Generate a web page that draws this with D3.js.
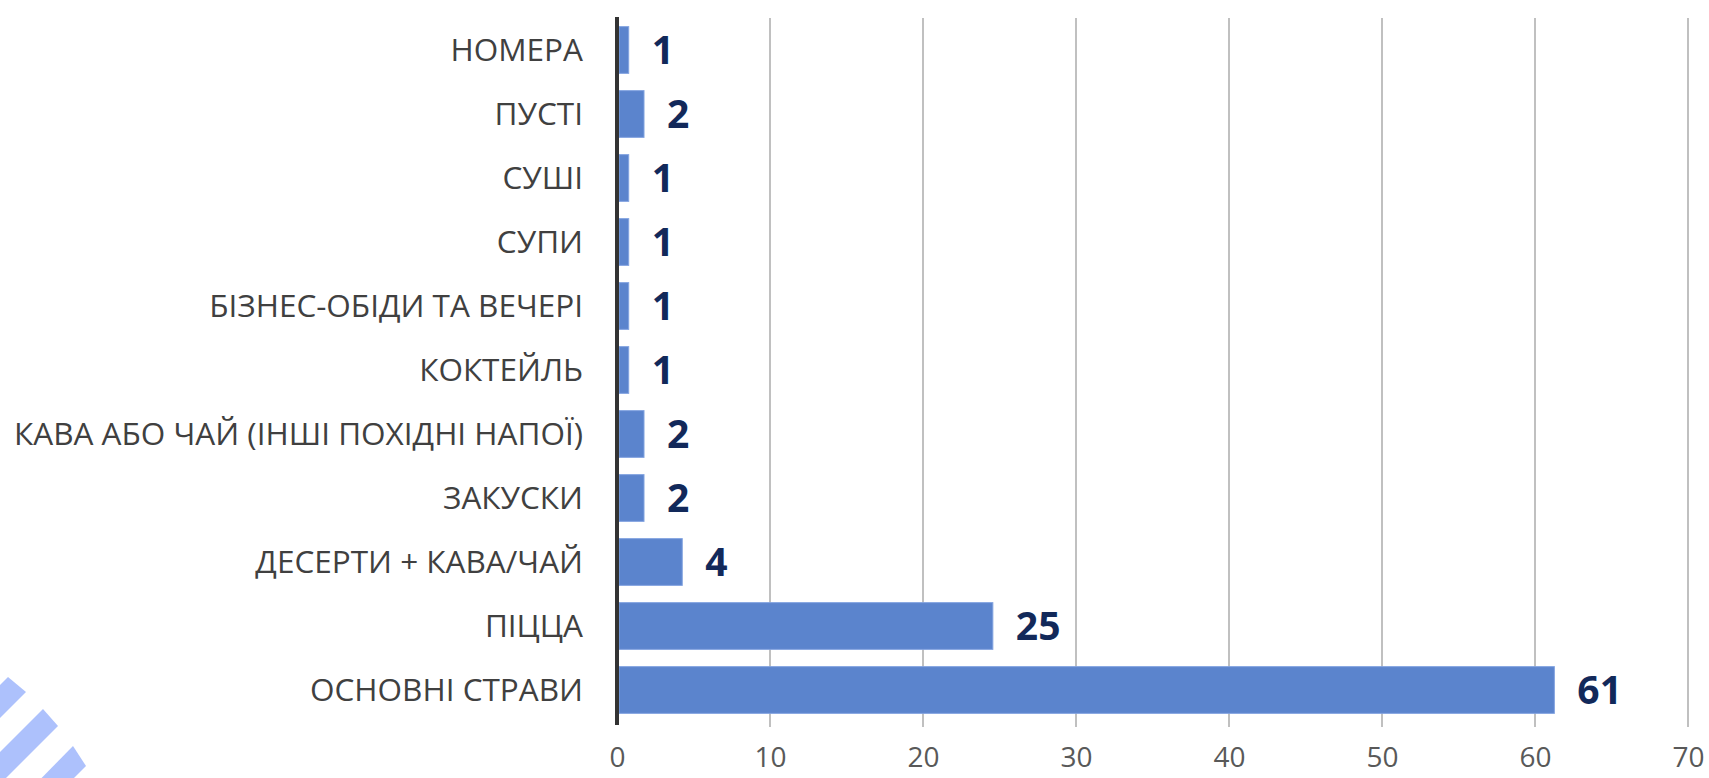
<!DOCTYPE html>
<html>
<head>
<meta charset="utf-8">
<script src="https://cdn.jsdelivr.net/npm/d3@7"></script>
<style>
  body { margin: 0; background: #fff; }
  svg { display: block; }
</style>
</head>
<body>
<script>
// Chart data (bar lengths are estimated, labels as printed).
const categories = [
  "НОМЕРА",
  "ПУСТІ",
  "СУШІ",
  "СУПИ",
  "БІЗНЕС-ОБІДИ ТА ВЕЧЕРІ",
  "КОКТЕЙЛЬ",
  "КАВА АБО ЧАЙ (ІНШІ ПОХІДНІ НАПОЇ)",
  "ЗАКУСКИ",
  "ДЕСЕРТИ + КАВА/ЧАЙ",
  "ПІЦЦА",
  "ОСНОВНІ СТРАВИ"
];
const values = [0.7, 1.7, 0.7, 0.7, 0.7, 0.7, 1.7, 1.7, 4.2, 24.5, 61.2];
const valueLabels = ["1", "2", "1", "1", "1", "1", "2", "2", "4", "25", "61"];
const xTicks = [0, 10, 20, 30, 40, 50, 60, 70];

const width = 1709;
const height = 778;

const svg = d3.select("body").append("svg")
    .attr("width", width)
    .attr("height", height);

// Scales
const x = d3.scaleLinear()
    .domain([0, 70])
    .range([617, 1688]);

const y = d3.scaleBand()
    .domain(categories)
    .range([18, 722])
    .paddingInner(0.27)
    .paddingOuter(0.135);

// Decorative stripes in the bottom-left corner
const stripes = [
  [[8, 677], [26, 692], [-60, 778], [-60, 745]],
  [[43, 709], [58, 726], [-20, 804], [-20, 772]],
  [[73, 746], [86, 766], [40, 812], [20, 800]]
];
svg.append("g").selectAll("polygon")
    .data(stripes)
    .enter().append("polygon")
    .attr("points", d => d.map(p => p.join(",")).join(" "))
    .attr("fill", "#adc1fc");

// Vertical gridlines
svg.append("g").selectAll("line")
    .data(xTicks.slice(1))
    .enter().append("line")
    .attr("x1", d => x(d))
    .attr("x2", d => x(d))
    .attr("y1", 18)
    .attr("y2", 727)
    .attr("stroke", "#c0c0c0")
    .attr("stroke-width", 2);

// Bars
svg.append("g").selectAll("rect")
    .data(values)
    .enter().append("rect")
    .attr("x", x(0) + 2)
    .attr("y", (d, i) => y(categories[i]))
    .attr("width", d => x(d) - x(0) - 1)
    .attr("height", y.bandwidth())
    .attr("fill", "#5b84cd")
    .attr("stroke", "#82a3e0")
    .attr("stroke-width", 1);

// Value labels
svg.append("g").selectAll("text")
    .data(valueLabels)
    .enter().append("text")
    .attr("x", (d, i) => x(values[i]) + 24)
    .attr("y", (d, i) => y(categories[i]) + y.bandwidth() / 2)
    .attr("dy", "0.36em")
    .attr("font-family", "'Open Sans', sans-serif")
    .attr("font-weight", "bold")
    .attr("font-size", 39)
    .attr("fill", "#12295a")
    .text(d => d);

// Category axis
const yAxis = svg.append("g")
    .attr("transform", `translate(${x(0)},0)`)
    .call(d3.axisLeft(y).tickSize(0).tickPadding(34));
yAxis.select(".domain").remove();
yAxis.selectAll("text")
    .attr("font-family", "'Open Sans', sans-serif")
    .attr("font-size", 31.5)
    .attr("fill", "#404040")
    .attr("dy", "0.36em");

svg.append("line")
    .attr("x1", x(0))
    .attr("x2", x(0))
    .attr("y1", 17)
    .attr("y2", 725)
    .attr("stroke", "#333")
    .attr("stroke-width", 4);

// Value axis labels
const xAxis = svg.append("g")
    .attr("transform", "translate(0,722)")
    .call(d3.axisBottom(x).tickValues(xTicks).tickSize(0).tickPadding(25));
xAxis.select(".domain").remove();
xAxis.selectAll("text")
    .attr("font-family", "'Open Sans', sans-serif")
    .attr("font-size", 28)
    .attr("fill", "#595959");
</script>
</body>
</html>
